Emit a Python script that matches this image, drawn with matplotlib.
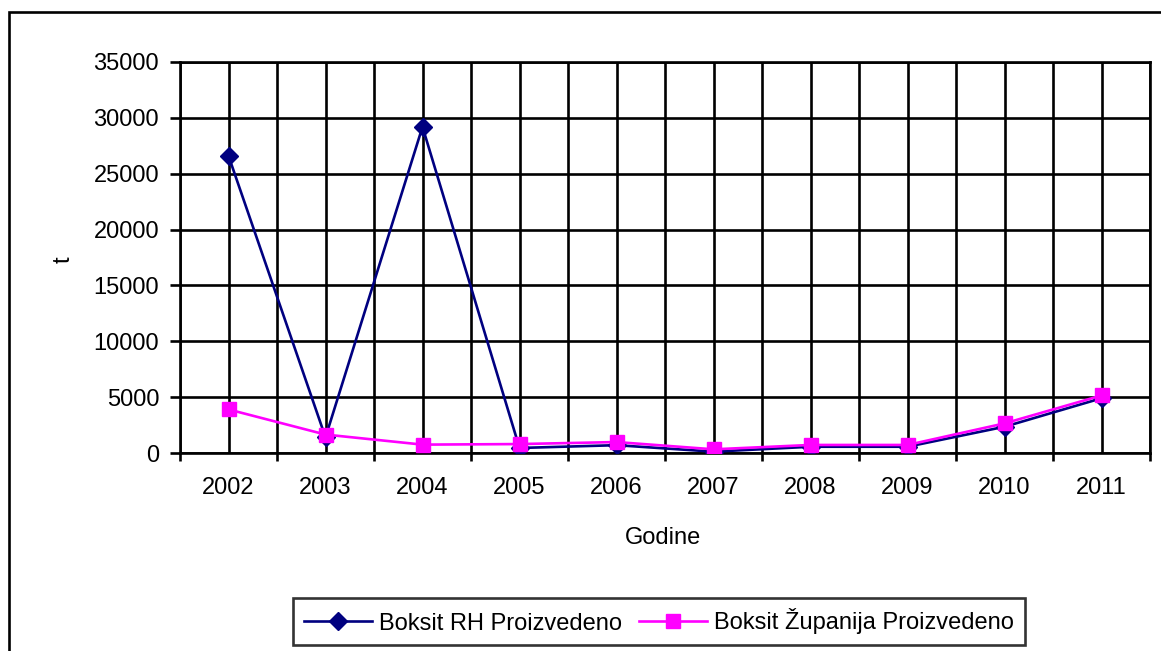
import matplotlib
matplotlib.use('Agg')
import matplotlib.pyplot as plt
from matplotlib.patches import Rectangle

plt.rcParams['font.family'] = ['Liberation Sans', 'DejaVu Sans']

years = ['2002', '2003', '2004', '2005', '2006', '2007', '2008', '2009', '2010', '2011']
boksit_rh = [26600, 1400, 29200, 450, 700, 120, 560, 560, 2350, 4900]
boksit_zupanija = [3900, 1650, 750, 800, 980, 330, 720, 720, 2650, 5150]

label_rh = 'Boksit RH Proizvedeno'
label_zup = 'Boksit Županija Proizvedeno'

FS = 17
LW = 1.9

fig = plt.figure(figsize=(11.61, 6.51), dpi=100)
# outer chart frame (right/bottom edges fall outside the picture)
fig.patches.append(Rectangle((9 / 1161, -0.05), 1.2, 1 - 12 / 651 + 0.05,
                             transform=fig.transFigure, fill=False,
                             edgecolor='black', linewidth=LW))

ax = fig.add_axes([180 / 1161, 1 - 453 / 651, 970 / 1161, 391 / 651])

x = list(range(len(years)))
ax.plot(x, boksit_rh, color='#000080', lw=LW, marker='D', ms=9,
        label=label_rh, zorder=3)
ax.plot(x, boksit_zupanija, color='#FF00FF', lw=LW, marker='s', ms=10.5,
        label=label_zup, zorder=4)

ax.set_xlim(-0.5, len(years) - 0.5)
ax.set_ylim(0, 35000)
ax.set_yticks(range(0, 35001, 5000))

# ticks at category boundaries, labels at category centres
ax.set_xticks([i - 0.5 for i in range(len(years) + 1)])
ax.set_xticklabels([])
ax.set_xticks(x, minor=True)
ax.set_xticklabels(years, minor=True)
ax.tick_params(axis='x', which='major', length=6, width=LW, direction='out')
ax.tick_params(axis='x', which='minor', length=0, pad=17, labelsize=FS)
ax.tick_params(axis='y', length=7, width=LW, direction='out', pad=8, labelsize=FS)

# grid: horizontal at y ticks, vertical at boundaries and centres
for yv in range(0, 35001, 5000):
    ax.axhline(yv, color='black', lw=LW, zorder=1)
for i in range(len(years) * 2 + 1):
    ax.axvline(-0.5 + i * 0.5, color='black', lw=LW, zorder=1)

for s in ax.spines.values():
    s.set_linewidth(LW)

ax.set_xlabel('Godine', fontsize=FS)
ax.xaxis.set_label_coords(0.498, -0.19)
ax.set_ylabel('t', fontsize=FS)
ax.yaxis.set_label_coords(-0.109, 0.494)

leg = fig.legend(loc='center', bbox_to_anchor=((286 + 1032) / 2 / 1161, 1 - (597 + 646) / 2 / 651),
                 ncol=2, fontsize=FS, frameon=True, fancybox=False, shadow=False,
                 handlelength=2.9, handletextpad=0.3, columnspacing=0.7,
                 borderpad=0.45, borderaxespad=0)
leg.get_frame().set_edgecolor('black')
leg.get_frame().set_linewidth(LW)

fig.savefig('out.png', dpi=100)
